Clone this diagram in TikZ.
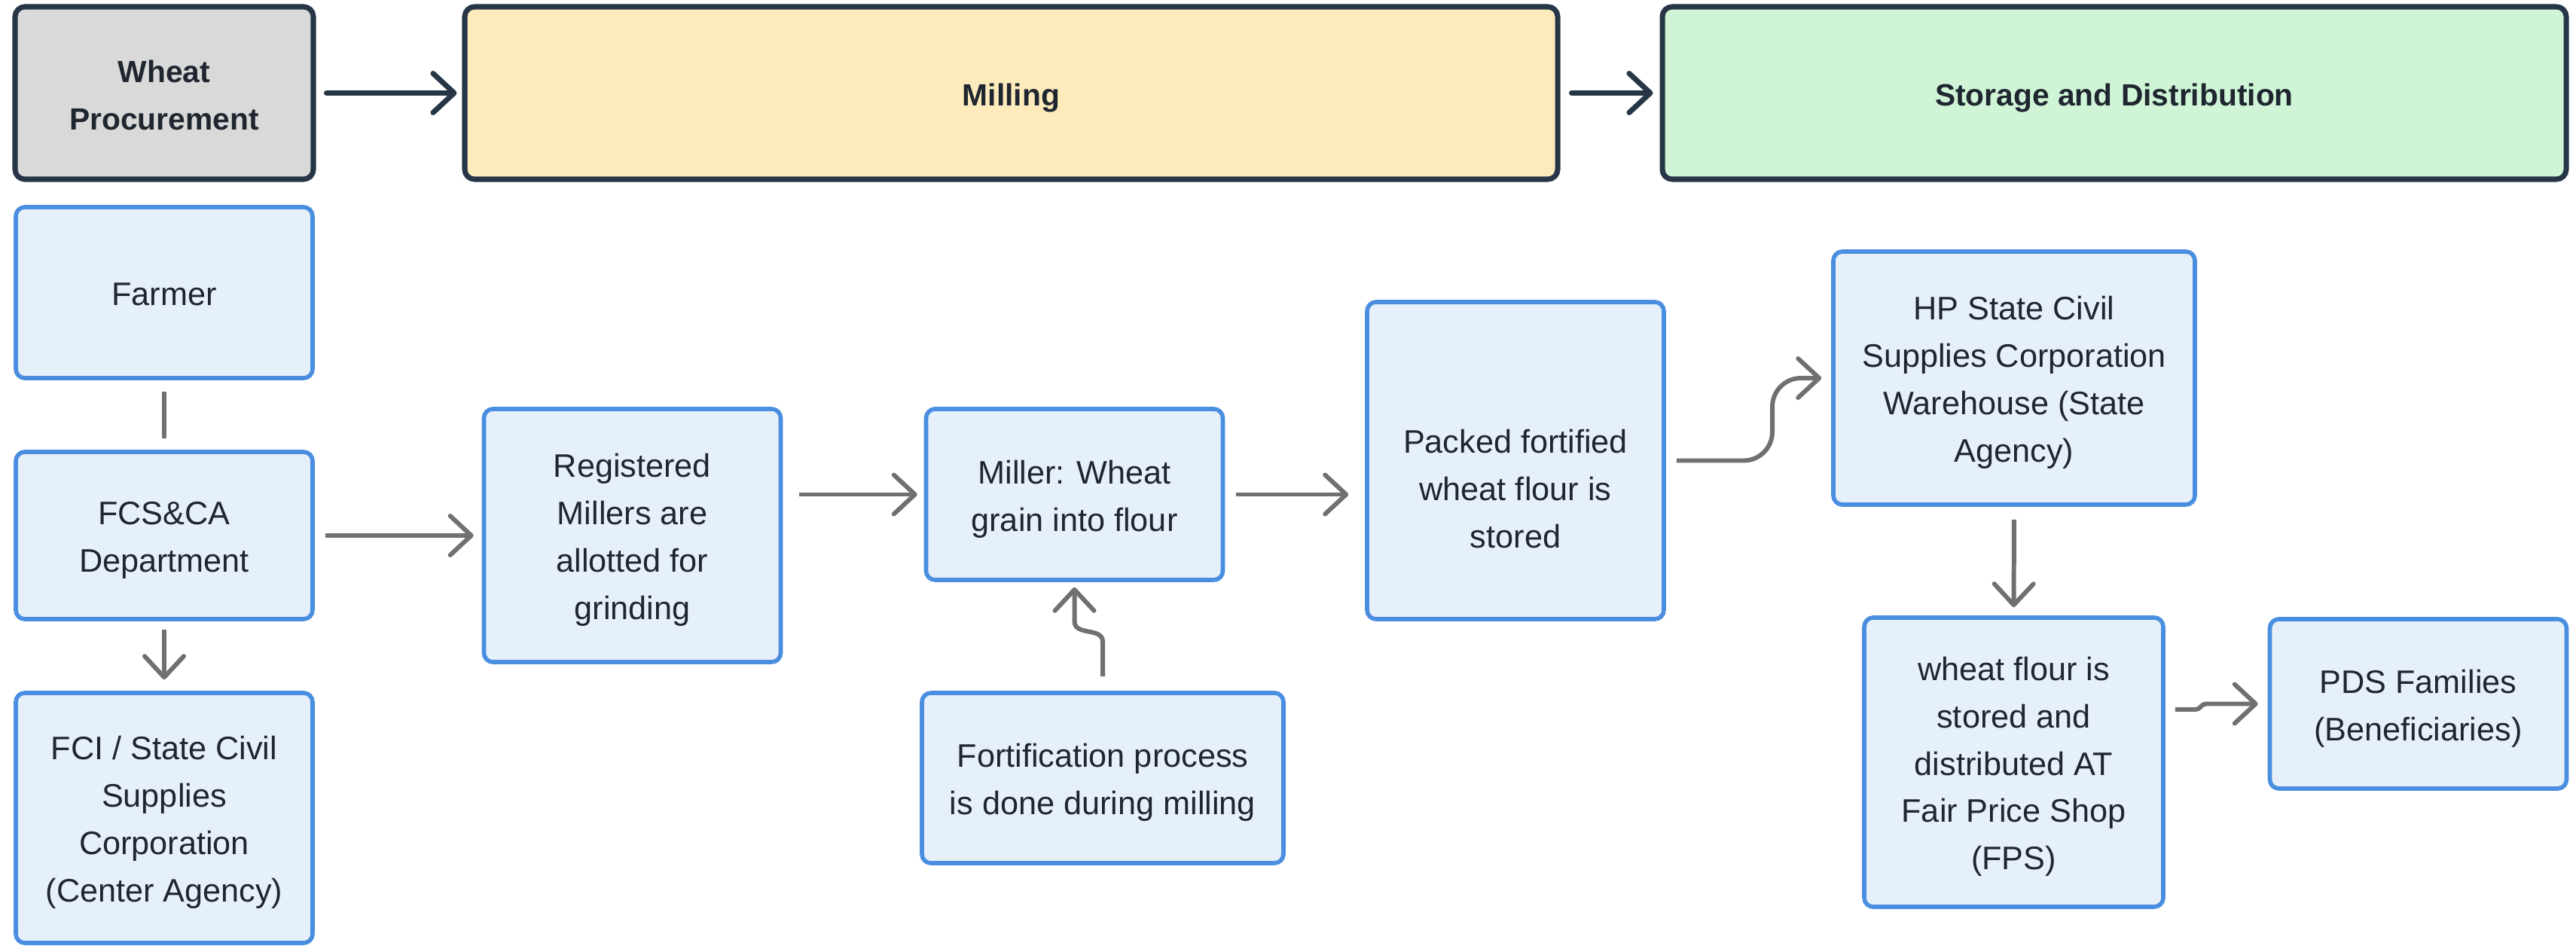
\documentclass[tikz,border=0pt]{standalone}
\usepackage{fontspec}
\setmainfont{Liberation Sans}
\usetikzlibrary{arrows.meta,calc}
\definecolor{hdrborder}{HTML}{263646}
\definecolor{hdrgray}{HTML}{D9D9D9}
\definecolor{hdryellow}{HTML}{FDEBBC}
\definecolor{hdrgreen}{HTML}{CFF5D6}
\definecolor{boxfill}{HTML}{E6F0FB}
\definecolor{boxborder}{HTML}{4A8EE0}
\definecolor{arrowgray}{HTML}{707070}
\definecolor{txt}{HTML}{1F2630}
\newcommand\lnstrut{\rule[-4.6pt]{0pt}{18.9pt}}
\begin{document}
\begin{tikzpicture}[
  hdr/.style={draw=hdrborder, line width=2pt, rounded corners=0.13cm, inner sep=0pt, align=center, text=txt, font=\fontsize{11.6pt}{17.9pt}\selectfont\bfseries, minimum height=2.29cm, execute at end node=\lnstrut},
  bx/.style={draw=boxborder, fill=boxfill, line width=1.6pt, rounded corners=0.12cm, inner sep=0pt, align=center, text=txt, font=\fontsize{12.3pt}{17.9pt}\selectfont, minimum width=3.94cm, execute at end node=\lnstrut},
  btext/.style={inner sep=0pt, align=center, text=txt, font=\fontsize{12.3pt}{17.9pt}\selectfont, execute at end node=\lnstrut},
  harrow/.style={draw=hdrborder, line width=2pt, line cap=round, -{Straight Barb[length=0.28cm,width=0.52cm,round]}},
  garrow/.style={draw=arrowgray, line width=1.7pt, -{Straight Barb[length=0.28cm,width=0.52cm,round]}},
  gline/.style={draw=arrowgray, line width=1.7pt},
]
\useasboundingbox (0,0) rectangle (34.2,-12.56);
\fill[white] (0,0) rectangle (34.2,-12.56);

\node[hdr, fill=hdrgray, minimum width=3.96cm] (wp) at (2.18,-1.235) {\lnstrut Wheat\\Procurement};
\node[hdr, fill=hdryellow, minimum width=14.51cm] (mill) at (13.425,-1.235) {\lnstrut Milling};
\node[hdr, fill=hdrgreen, minimum width=12.0cm] (stor) at (28.07,-1.235) {\lnstrut Storage and Distribution};

\node[bx, minimum height=2.27cm] (farmer) at (2.18,-3.885) {\lnstrut Farmer};
\node[bx, minimum height=2.22cm] (fcs) at (2.18,-7.11) {\lnstrut FCS\&CA\\Department};
\node[bx, minimum height=3.32cm] (fci) at (2.18,-10.86) {\lnstrut FCI / State Civil\\Supplies\\Corporation\\(Center Agency)};
\node[bx, minimum height=3.36cm] (reg) at (8.395,-7.11) {\lnstrut Registered\\Millers are\\allotted for\\grinding};
\node[bx, minimum height=2.27cm] (miller) at (14.265,-6.565) {\lnstrut Miller: Wheat\\grain into flour};
\node[bx, minimum width=4.8cm, minimum height=2.26cm] (fort) at (14.64,-10.33) {\lnstrut Fortification process\\is done during milling};
\node[bx, minimum height=4.21cm, execute at end node={}] (packed) at (20.12,-6.115) {};
\node[btext] (packedtext) at ($(packed.center)+(0,-0.36)$) {\lnstrut Packed fortified\\wheat flour is\\stored};
\node[bx, minimum width=4.8cm, minimum height=3.36cm] (hp) at (26.74,-5.02) {\lnstrut HP State Civil\\Supplies Corporation\\Warehouse (State\\Agency)};
\node[bx, minimum width=3.97cm, minimum height=3.84cm] (wf) at (26.735,-10.12) {\lnstrut wheat flour is\\stored and\\distributed AT\\Fair Price Shop\\(FPS)};
\node[bx, minimum height=2.25cm] (pds) at (32.105,-9.345) {\lnstrut PDS Families\\(Beneficiaries)};

\draw[harrow, shorten <=0.14cm, shorten >=0.07cm] (wp.east) -- (mill.west);
\draw[harrow, shorten <=0.15cm, shorten >=0.09cm] (mill.east) -- (stor.west);
\draw[gline, shorten <=0.15cm, shorten >=0.15cm] (farmer.south) -- (fcs.north);
\draw[garrow, shorten <=0.11cm, shorten >=0.15cm] (fcs.south) -- (fci.north);
\draw[garrow, shorten <=0.14cm, shorten >=0.11cm] (fcs.east) -- (reg.west);
\draw[garrow, shorten <=0.22cm, shorten >=0.09cm] (reg.east |- miller.west) -- (miller.west);
\draw[garrow, shorten <=0.15cm, shorten >=0.22cm] (miller.east) -- (packed.west |- miller.east);

\coordinate (bend) at (23.53,-6.0);
\draw[garrow, rounded corners=0.38cm, shorten <=0.14cm, shorten >=0.13cm] (packed.east) -- (packed.east -| bend) -- (hp.west -| bend) -- (hp.west);

\draw[garrow, shorten <=0.17cm, shorten >=0.11cm] (hp.south) -- (wf.north);

\coordinate (wfout) at ($(wf.east)+(0,0.70)$);
\draw[garrow, shorten <=0.13cm, shorten >=0.13cm] (wfout) -- ($(wfout)+(0.40,0)$) .. controls ($(wfout)+(0.47,0)$) and ($(wfout)+(0.47,0.075)$) .. ($(wfout)+(0.54,0.075)$) -- (pds.west);

\draw[garrow, shorten <=0.19cm, shorten >=0.07cm] (fort.north) -- ($(fort.north)+(0,0.65)$) .. controls ($(fort.north)+(0,0.85)$) and ($(miller.south)+(0,-0.72)$) .. ($(miller.south)+(0,-0.52)$) -- (miller.south);
\end{tikzpicture}
\end{document}
